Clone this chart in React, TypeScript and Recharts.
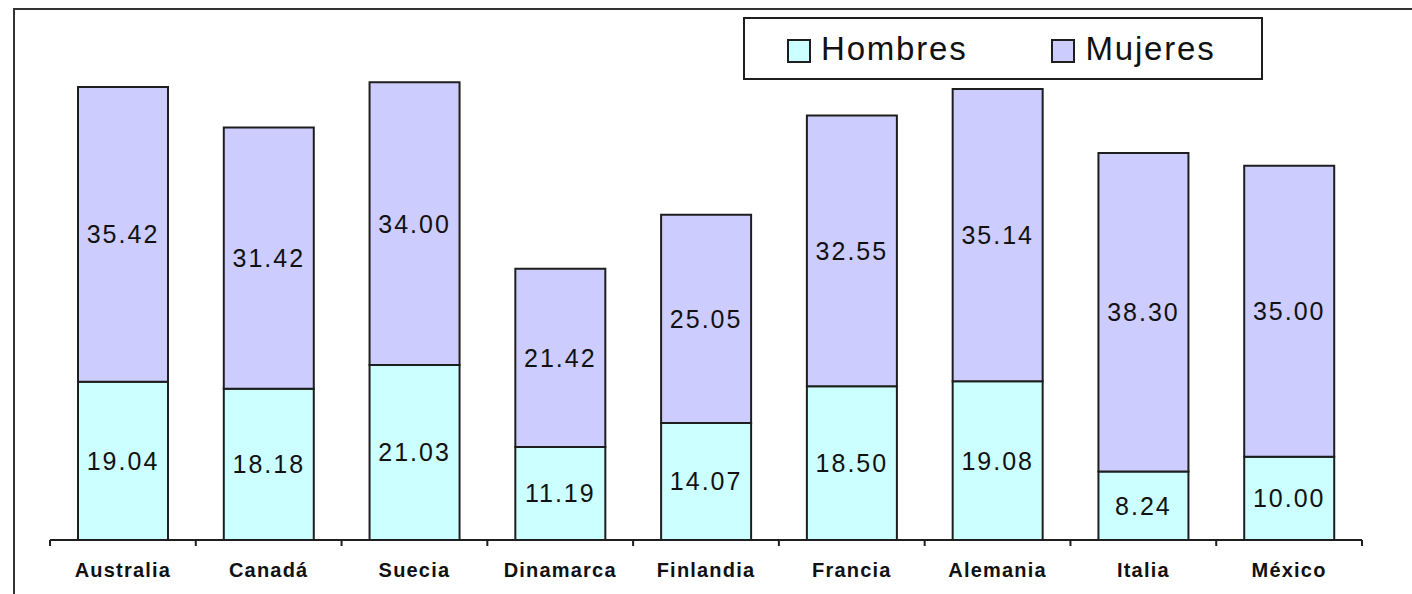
import { BarChart, Bar, XAxis, YAxis, LabelList } from "recharts";

const categories = ["Australia", "Canadá", "Suecia", "Dinamarca", "Finlandia", "Francia", "Alemania", "Italia", "México"];
const hombres = [19.04, 18.18, 21.03, 11.19, 14.07, 18.5, 19.08, 8.24, 10.0];
const mujeres = [35.42, 31.42, 34.0, 21.42, 25.05, 32.55, 35.14, 38.3, 35.0];
const edgeTicks = [0, 1, 2, 3, 4, 5, 6, 7, 8, 9];
const series = [
  { key: "Hombres", color: "#ccffff" },
  { key: "Mujeres", color: "#ccccff" },
];

const data = categories.map((name, i) => ({ name, pos: i + 0.5, Hombres: hombres[i], Mujeres: mujeres[i] }));

const FONT = "Arial, 'Liberation Sans', sans-serif";
const INK = "#1e1e1e";

function LegendBox() {
  return (
    <div
      style={{
        position: "absolute",
        left: 743,
        top: 17,
        width: 520,
        height: 63,
        boxSizing: "border-box",
        border: `2px solid ${INK}`,
        background: "#fff",
        display: "flex",
        alignItems: "center",
        fontFamily: FONT,
        fontSize: 33,
        color: "#111",
        letterSpacing: 1.8,
        zIndex: 2,
      }}
    >
      {series.map((s, i) => (
        <div key={s.key} style={{ display: "flex", alignItems: "center", marginLeft: i === 0 ? 42 : 84 }}>
          <span
            style={{
              display: "inline-block",
              width: 20,
              height: 20,
              border: `2px solid ${INK}`,
              background: s.color,
              marginRight: 10,
              marginTop: 4,
            }}
          />
          <span>{s.key}</span>
        </div>
      ))}
    </div>
  );
}

const NoTick = () => <g />;

export default function App() {
  return (
    <div style={{ position: "absolute", left: 0, top: 0, width: 1412, height: 594, overflow: "hidden", background: "#fff" }}>
      <div
        style={{
          position: "absolute",
          left: 13,
          top: 8,
          width: 1600,
          height: 800,
          borderTop: "2px solid #333",
          borderLeft: "2px solid #333",
        }}
      />
      <LegendBox />
      <BarChart width={1412} height={594} data={data} margin={{ top: 41, right: 50, bottom: 0, left: 50 }}>
        <XAxis
          xAxisId="b_cat"
          dataKey="name"
          height={53}
          interval={0}
          axisLine={false}
          tickLine={false}
          tickMargin={16}
          tick={{ fill: "#111", fontSize: 20, fontWeight: "bold", fontFamily: FONT, style: { letterSpacing: 1.2 } } as any}
        />
        <XAxis
          xAxisId="a_edge"
          dataKey="pos"
          type="number"
          domain={[0, 9]}
          ticks={edgeTicks}
          interval={0}
          allowDataOverflow
          height={1}
          tickSize={6}
          tick={NoTick}
          axisLine={{ stroke: INK, strokeWidth: 2 }}
          tickLine={{ stroke: INK, strokeWidth: 2 }}
        />
        <YAxis hide domain={[0, 60]} />
        {series.map((s) => (
          <Bar
            key={s.key}
            xAxisId="b_cat"
            dataKey={s.key}
            stackId="a"
            barSize={90}
            fill={s.color}
            stroke={INK}
            strokeWidth={2}
            isAnimationActive={false}
          >
            <LabelList
              dataKey={s.key}
              position="center"
              formatter={(v: any) => Number(v).toFixed(2)}
              fill="#111"
              fontSize={25}
              fontFamily={FONT}
              style={{ letterSpacing: 2 }}
            />
          </Bar>
        ))}
      </BarChart>
    </div>
  );
}
